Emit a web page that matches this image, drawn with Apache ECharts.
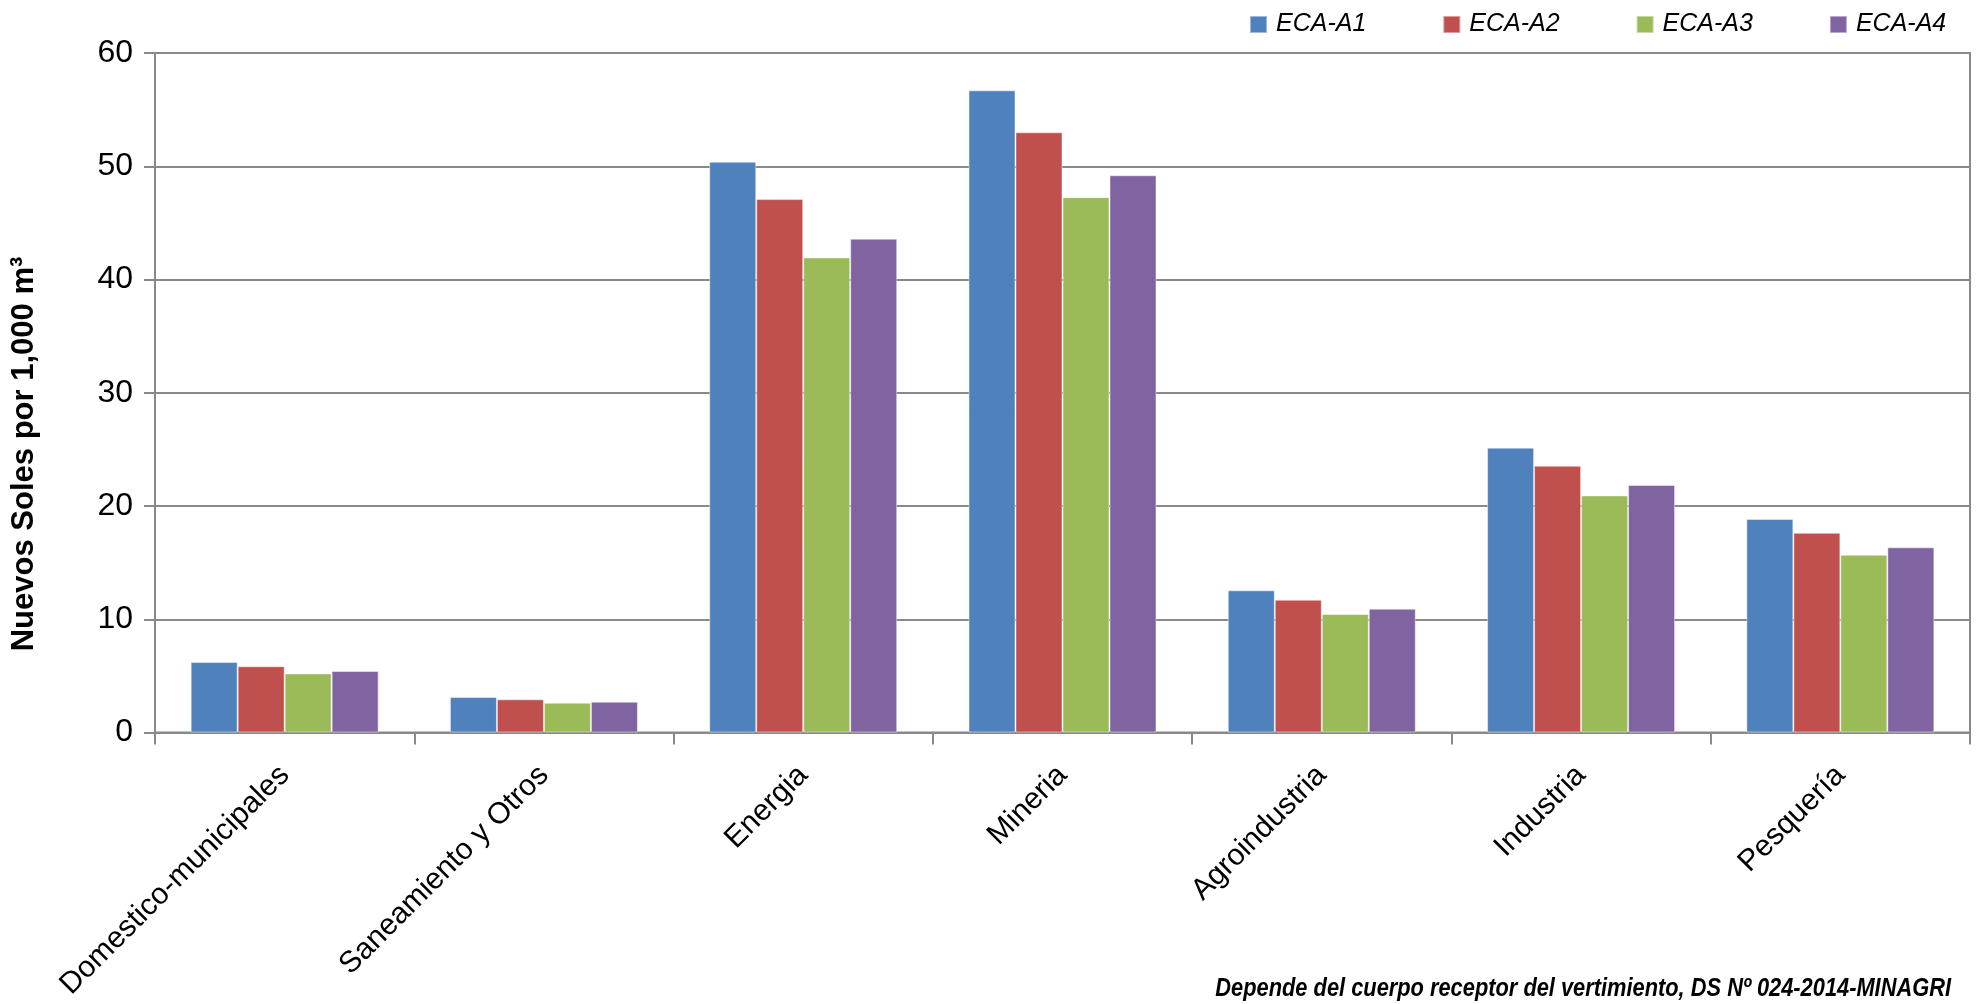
<!DOCTYPE html>
<html>
<head>
<meta charset="utf-8">
<script src="https://cdn.jsdelivr.net/npm/echarts@6/dist/echarts.min.js"></script>
<style>
html,body{margin:0;padding:0;background:#fff;}
#chart{width:1979px;height:1004px;}
</style>
</head>
<body>
<div id="chart"></div>
<script>
const categories = ['Domestico-municipales', 'Saneamiento y Otros', 'Energia', 'Mineria', 'Agroindustria', 'Industria', 'Pesquería'];
const seriesNames = ['ECA-A1', 'ECA-A2', 'ECA-A3', 'ECA-A4'];
const ecaA1 = [6.22, 3.13, 50.4, 56.7, 12.55, 25.15, 18.85];
const ecaA2 = [5.85, 2.93, 47.1, 53.0, 11.72, 23.55, 17.63];
const ecaA3 = [5.22, 2.63, 41.95, 47.27, 10.46, 20.93, 15.69];
const ecaA4 = [5.43, 2.72, 43.6, 49.2, 10.93, 21.85, 16.35];
const yTicks = [0, 10, 20, 30, 40, 50, 60];
const yTitle = 'Nuevos Soles por 1,000 m³';
const footnote = 'Depende del cuerpo receptor del vertimiento, DS Nº 024-2014-MINAGRI';

const colors = ['#4F81BD', '#C0504D', '#9BBB59', '#8064A2'];
const seriesData = [ecaA1, ecaA2, ecaA3, ecaA4];
const axisGray = '#898989';
const sans = "'Liberation Sans', Arial, sans-serif";

const chart = echarts.init(document.getElementById('chart'), null, {renderer: 'canvas'});
chart.setOption({
  animation: false,
  backgroundColor: '#ffffff',
  color: colors,
  legend: {
    data: seriesNames,
    left: 1249,
    top: 12,
    padding: 0,
    itemWidth: 17,
    itemHeight: 17,
    itemGap: 76,
    icon: 'rect',
    textStyle: {fontFamily: sans, fontStyle: 'italic', fontSize: 25, color: '#000', padding: [0, 0, 0, 4]}
  },
  grid: {
    left: 155, right: 9, top: 53, bottom: 271.5,
    show: true, borderColor: axisGray, borderWidth: 2, backgroundColor: 'transparent'
  },
  xAxis: {
    type: 'category',
    data: categories,
    boundaryGap: true,
    axisLine: {lineStyle: {color: axisGray, width: 2}},
    axisTick: {show: true, alignWithLabel: false, length: 12, lineStyle: {color: axisGray, width: 2}},
    axisLabel: {rotate: 45, margin: 38, interval: 0, fontFamily: sans, fontSize: 30, color: '#000'}
  },
  yAxis: {
    type: 'value',
    min: yTicks[0],
    max: yTicks[yTicks.length - 1],
    interval: 10,
    axisLine: {show: true, lineStyle: {color: axisGray, width: 2}},
    axisTick: {show: true, inside: false, length: 11, lineStyle: {color: axisGray, width: 2}},
    splitLine: {show: true, lineStyle: {color: axisGray, width: 2}},
    axisLabel: {margin: 22, fontFamily: sans, fontSize: 32, color: '#000'}
  },
  series: seriesData.map((d, i) => ({
    name: seriesNames[i],
    type: 'bar',
    data: d,
    barGap: '0%',
    barCategoryGap: '27.5%',
    itemStyle: {color: colors[i], borderColor: 'rgba(255,255,255,0.45)', borderWidth: 1}
  })),
  graphic: [
    {
      type: 'text',
      x: 24, y: 454,
      rotation: Math.PI / 2,
      scaleY: 1.03,
      style: {
        text: yTitle,
        fontFamily: sans, fontWeight: 'bold', fontSize: 31, fill: '#000',
        align: 'center', verticalAlign: 'middle'
      }
    },
    {
      type: 'text',
      x: 1951, y: 989,
      scaleX: 0.873,
      style: {
        text: footnote,
        fontFamily: sans, fontWeight: 'bold', fontStyle: 'italic', fontSize: 25, fill: '#000',
        align: 'right', verticalAlign: 'middle'
      }
    }
  ]
});
</script>
</body>
</html>
